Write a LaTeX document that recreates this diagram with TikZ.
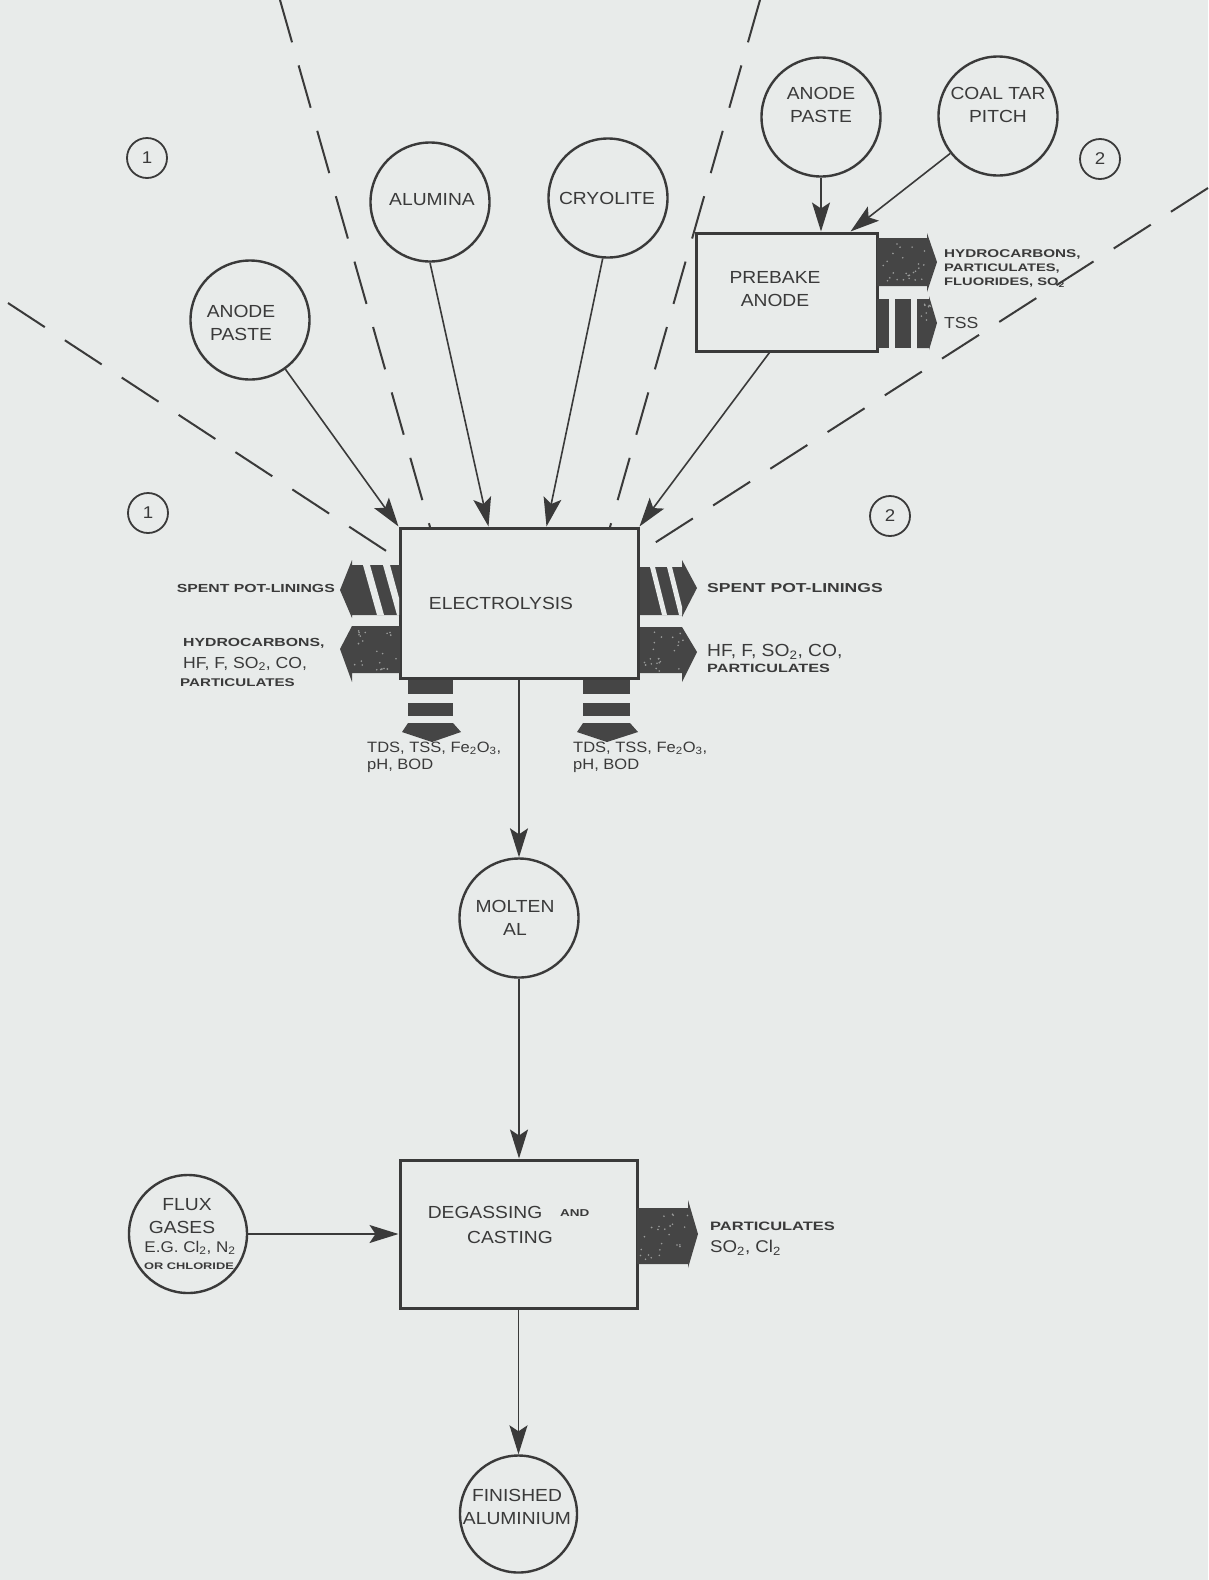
\documentclass[tikz,border=0pt]{standalone}
\usepackage{fontspec}
\setmainfont{Liberation Sans}
\newfontfamily\handfont{Liberation Sans}[FakeStretch=1.1]
\newfontfamily\tagfont{Liberation Sans}[FakeStretch=1.35]
\usetikzlibrary{arrows.meta,calc}
\definecolor{paper}{HTML}{E8EBEA}
\definecolor{ink}{HTML}{3A3A3A}
\definecolor{blockink}{HTML}{454545}
\definecolor{fleck}{HTML}{9A9C9B}
% light flecks scattered over a dark emission arrow
\newcommand\speck[5]{%
  \foreach \k in {1,...,#5}{\fill[fleck] ({#1+rnd*(#3-#1)},{#2+rnd*(#4-#2)}) circle (0.9);}}
\tikzset{
  flow/.style={draw=ink, line width=1.6pt, -{Stealth[length=29pt,width=18pt,inset=6pt]}},
  feed/.style={circle, draw=ink, line width=2.4pt, minimum size=119pt, inner sep=0pt},
  unitbox/.style={draw=ink, line width=3pt, inner sep=0pt},
  tag/.style={circle, draw=ink, line width=1.8pt, minimum size=40pt, inner sep=0pt,
              text=ink, font=\handfont\fontsize{17}{17}\selectfont},
  zone/.style={draw=ink, line width=2pt, dash pattern=on 44pt off 24pt},
  lbl/.style={inner sep=0pt, align=center, text=ink, font=\handfont\fontsize{17.5}{23}\selectfont},
  mid/.style={inner sep=0pt, anchor=west, text=ink, font=\handfont\fontsize{15}{16}\selectfont},
  small/.style={inner sep=0pt, anchor=west, text=ink, font=\tagfont\bfseries\fontsize{11.5}{12}\selectfont},
  block/.style={fill=blockink},
  gap/.style={fill=paper},
}
\begin{document}
\begin{tikzpicture}[x=1pt,y=-1pt]
\useasboundingbox (0,0) rectangle (1208,1580);
\fill[paper] (0,0) rectangle (1208,1580);
\pgfmathsetseed{17}

% zone boundaries
\draw[zone] (280,0) -- (430,527);
\draw[zone] (760,0) -- (610,527);
\draw[zone] (8,303) -- (400,560);
\draw[zone] (1208,188) -- (639,553);

% zone numbers
\node[tag] (z1a) at (147,158) {1};
\node[tag] (z1b) at (148,513) {1};
\node[tag] (z2a) at (1100,159) {2};
\node[tag] (z2b) at (890,516) {2};

% process units
\node[unitbox, minimum width=238pt, minimum height=150pt] (elec) at (519,603) {};
\node[unitbox, minimum width=181pt, minimum height=118pt] (prebake) at (786.5,292) {};
\node[unitbox, minimum width=237pt, minimum height=148pt] (degas) at (518.5,1234) {};

\node[lbl] (elec-t) at (501,603) {ELECTROLYSIS};
\node[lbl] (prebake-t) at (775,289) {PREBAKE\\ANODE};
\node[lbl] (degas-t1) at (485,1212) {DEGASSING};
\node[small, font=\tagfont\bfseries\fontsize{10}{11}\selectfont] (degas-t2) at (560,1213) {AND};
\node[lbl] (degas-t3) at (510,1237) {CASTING};

% materials
\node[feed] (ap1) at (250,320) {};
\node[feed] (alumina) at (430,202) {};
\node[feed] (cryolite) at (608,198) {};
\node[feed] (ap2) at (821,117) {};
\node[feed] (pitch) at (998,116) {};
\node[feed] (molten) at (519,918) {};
\node[feed, minimum size=118pt] (flux) at (188,1234) {};
\node[feed, minimum size=117pt] (finished) at (518.5,1514) {};

\node[lbl] (ap1-t) at (241,323) {ANODE\\PASTE};
\node[lbl] (alumina-t) at (432,200) {ALUMINA};
\node[lbl] (cryolite-t) at (607,198) {CRYOLITE};
\node[lbl] (ap2-t) at (821,105) {ANODE\\PASTE};
\node[lbl] (pitch-t) at (998,105) {COAL TAR\\PITCH};
\node[lbl] (molten-t) at (515,918) {MOLTEN\\AL};
\node[lbl] (finished-t) at (517,1507) {FINISHED\\ALUMINIUM};
\node[lbl] (flux-t1) at (187,1205) {FLUX};
\node[lbl] (flux-t2) at (182,1227) {GASES};
\node[lbl, font=\handfont\fontsize{15.5}{16}\selectfont] (flux-t3) at (190,1248) {E.G. Cl\textsubscript{2}, N\textsubscript{2}};
\node[lbl, font=\tagfont\bfseries\fontsize{9.5}{10}\selectfont] (flux-t4) at (189,1266) {OR CHLORIDE};

% flows
\coordinate (elec-a) at ($(elec.north west)+(90,0)$);
\coordinate (elec-b) at ($(elec.north west)+(148,0)$);
\coordinate (pb-out) at ($(prebake.south west)+(75,0)$);
\coordinate (pb-in) at ($(prebake.north west)+(156,0)$);
\draw[flow] (ap1) -- (elec.north west);
\draw[flow] (alumina.south) -- (elec-a);
\draw[flow] (cryolite.-95) -- (elec-b);
\draw[flow] (pb-out) -- (elec.north east);
\draw[flow] (ap2.south) -- (ap2.south |- prebake.north);
\draw[flow] (pitch) -- (pb-in);
\draw[flow] (elec.south) -- (molten.north);
\draw[flow] (molten.south) -- (molten.south |- degas.north);
\draw[flow] (flux.east) -- (degas.west);
\draw[flow] (degas.south) -- (finished.north);

% --- emissions from electrolysis, left side
\fill[block] (400,565) -- (352,565) -- (352,560) -- (340,590) -- (352,618) -- (352,615) -- (400,615) -- cycle;
\fill[gap] (363,565) -- (370,565) -- (384,615) -- (377,615) -- cycle;
\fill[gap] (383,565) -- (390,565) -- (399,598) -- (399,615) -- (397,615) -- cycle;
\fill[block] (400,626) -- (352,626) -- (340,649) -- (352,682) -- (352,673) -- (400,673) -- cycle;
\speck{354}{629}{397}{671}{22}

% --- emissions from electrolysis, right side
\fill[block] (640,567) -- (682,567) -- (682,560) -- (697,588) -- (682,617) -- (682,615) -- (640,615) -- cycle;
\fill[gap] (650,567) -- (655,567) -- (667,615) -- (662,615) -- cycle;
\fill[gap] (667,567) -- (672,567) -- (682,607) -- (682,615) -- (679,615) -- cycle;
\fill[block] (640,627) -- (682,627) -- (697,652) -- (682,682) -- (682,673) -- (640,673) -- cycle;
\speck{643}{630}{684}{671}{22}

% --- emissions from electrolysis, below
\fill[block] (408,680) rectangle (453,694);
\fill[block] (408,703) rectangle (453,716);
\fill[block] (408,723) -- (453,723) -- (461,732) -- (432,742) -- (402,732) -- cycle;
\fill[block] (583,680) rectangle (630,694);
\fill[block] (583,703) rectangle (630,716);
\fill[block] (583,723) -- (630,723) -- (638,732) -- (607,742) -- (577,732) -- cycle;

% --- emissions from prebake anode
\fill[block] (877,238) -- (927,238) -- (927,233) -- (937,262) -- (927,292) -- (927,286) -- (877,286) -- cycle;
\speck{879}{241}{928}{284}{24}
\fill[block] (877,299) rectangle (889,348);
\fill[block] (895,299) rectangle (911,348);
\fill[block] (917,299) -- (929,299) -- (929,296) -- (937,323) -- (929,350) -- (929,348) -- (917,348) -- cycle;
\speck{919}{303}{932}{344}{8}

% --- emissions from degassing
\fill[block] (637,1208) -- (688,1208) -- (688,1200) -- (698,1234) -- (688,1268) -- (688,1264) -- (637,1264) -- cycle;
\speck{640}{1211}{688}{1261}{24}

% emission labels
\node[small, anchor=east, font=\tagfont\bfseries\fontsize{11.7}{12}\selectfont] (l-spl) at (335,588) {SPENT POT-LININGS};
\node[small, font=\tagfont\bfseries\fontsize{11.7}{12}\selectfont] (l-hc) at (183,643) {HYDROCARBONS,};
\node[mid, font=\handfont\fontsize{16}{17}\selectfont] (l-hf) at (183,664) {HF, F, SO\textsubscript{2}, CO,};
\node[small, font=\tagfont\bfseries\fontsize{11.2}{12}\selectfont] (l-part) at (180,683) {PARTICULATES};

\node[small, font=\tagfont\bfseries\fontsize{13}{14}\selectfont] (r-spl) at (707,588) {SPENT POT-LININGS};
\node[mid, font=\handfont\fontsize{17.5}{18}\selectfont] (r-hf) at (707,652) {HF, F, SO\textsubscript{2}, CO,};
\node[small, font=\tagfont\bfseries\fontsize{12}{13}\selectfont] (r-part) at (707,668) {PARTICULATES};

\node[mid] (b1-a) at (367,748) {TDS, TSS, Fe\textsubscript{2}O\textsubscript{3},};
\node[mid] (b1-b) at (367,766) {pH, BOD};
\node[mid] (b2-a) at (573,748) {TDS, TSS, Fe\textsubscript{2}O\textsubscript{3},};
\node[mid] (b2-b) at (573,766) {pH, BOD};

\node[small, font=\tagfont\bfseries\fontsize{11.3}{12}\selectfont] (p-hc) at (944,254) {HYDROCARBONS,};
\node[small, font=\tagfont\bfseries\fontsize{10.9}{12}\selectfont] (p-part) at (944,269) {PARTICULATES,};
\node[small, font=\tagfont\bfseries\fontsize{10.9}{12}\selectfont] (p-fl) at (944,283) {FLUORIDES, SO\textsubscript{2}};
\node[mid, font=\handfont\fontsize{16}{17}\selectfont] (p-tss) at (944,323) {TSS};

\node[small, font=\tagfont\bfseries\fontsize{12.2}{13}\selectfont] (d-part) at (710,1226) {PARTICULATES};
\node[mid, font=\handfont\fontsize{17}{18}\selectfont] (d-so) at (710,1248) {SO\textsubscript{2}, Cl\textsubscript{2}};
\end{tikzpicture}
\end{document}
